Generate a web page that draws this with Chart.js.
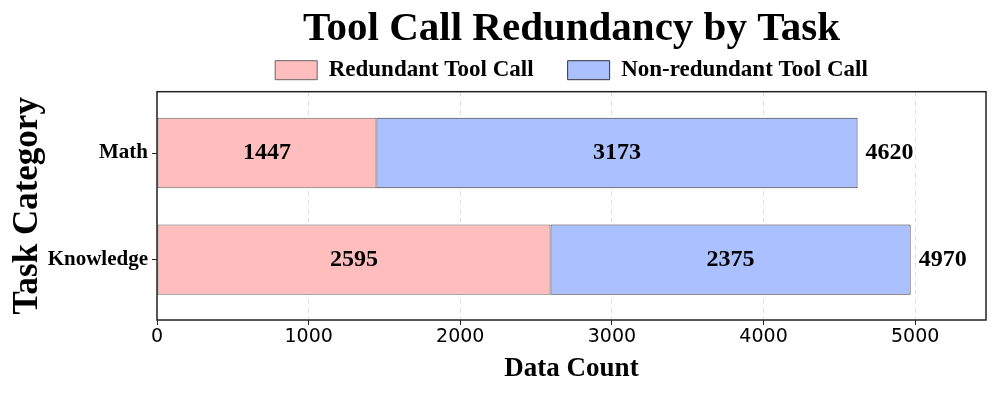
<!DOCTYPE html>
<html>
<head>
<meta charset="utf-8">
<script src="https://cdn.jsdelivr.net/npm/chart.js@4"></script>
<style>
    html, body { margin: 0; padding: 0; background: #fff; }
    #wrap { width: 996px; height: 393px; }
</style>
</head>
<body>
<div id="wrap"><canvas id="chart"></canvas></div>
<script>
// Werte (von unten nach oben)
const categories = ['Knowledge', 'Math'];
const redundant = [2595, 1447];
const nonRedundant = [2375, 3173];
const totals = [4970, 4620];
const xTicks = [0, 1000, 2000, 3000, 4000, 5000];

const serif = "'Liberation Serif', 'DejaVu Serif', serif";

// Zahlen in die Balken und Summe rechts daneben
const barLabels = {
    id: 'barLabels',
    afterDatasetsDraw(chart) {
        const ctx = chart.ctx;
        ctx.save();
        ctx.fillStyle = '#000';
        ctx.font = 'bold 24px ' + serif;
        ctx.textBaseline = 'middle';
        ctx.textAlign = 'center';
        chart.data.datasets.forEach((ds, i) => {
            const meta = chart.getDatasetMeta(i);
            meta.data.forEach((bar, j) => {
                ctx.fillText(String(ds.data[j].x), (bar.x + bar.base) / 2, bar.y);
            });
        });
        const last = chart.getDatasetMeta(chart.data.datasets.length - 1);
        ctx.textAlign = 'left';
        last.data.forEach((bar, j) => {
            ctx.fillText(String(totals[j]), bar.x + 8, bar.y);
        });
        ctx.restore();
    }
};

// Rahmen um die Plotfläche
const frame = {
    id: 'frame',
    afterDraw(chart) {
        const a = chart.chartArea;
        const ctx = chart.ctx;
        ctx.save();
        ctx.strokeStyle = '#222';
        ctx.lineWidth = 1.5;
        ctx.strokeRect(a.left, a.top, a.right - a.left, a.bottom - a.top);
        ctx.restore();
    }
};

const toPoints = arr => arr.map((v, i) => ({ x: v, y: i }));

const ctx = document.getElementById('chart').getContext('2d');
new Chart(ctx, {
    type: 'bar',
    data: {
        datasets: [{
            label: 'Redundant Tool Call',
            data: toPoints(redundant),
            backgroundColor: 'rgb(255, 189, 189)',
            borderColor: '#666',
            borderWidth: 1,
            borderSkipped: false,
            barPercentage: 1,
            categoryPercentage: 0.66
        }, {
            label: 'Non-redundant Tool Call',
            data: toPoints(nonRedundant),
            backgroundColor: 'rgb(171, 193, 255)',
            borderColor: '#333',
            borderWidth: 1,
            borderSkipped: false,
            barPercentage: 1,
            categoryPercentage: 0.66
        }]
    },
    options: {
        indexAxis: 'y',
        responsive: true,
        maintainAspectRatio: false,
        animation: false,
        layout: { padding: { left: 0, right: 10, top: 4, bottom: 0 } },
        scales: {
            x: {
                type: 'linear',
                stacked: true,
                min: 0,
                max: 5467,
                afterBuildTicks: (scale) => { scale.ticks = xTicks.map(v => ({ value: v })); },
                afterFit: (scale) => { scale.height = 73; },
                ticks: {
                    color: '#000',
                    font: { family: "'DejaVu Sans', sans-serif", size: 19 },
                    padding: 1,
                    maxRotation: 0,
                    callback: (v) => String(v)
                },
                grid: {
                    color: 'rgba(0,0,0,0.12)',
                    tickColor: '#222',
                    tickLength: 5,
                    tickBorderDash: []
                },
                border: { display: false, dash: [5, 4] },
                title: {
                    display: true,
                    text: 'Data Count',
                    color: '#000',
                    font: { family: serif, size: 27, weight: 'bold' },
                    padding: { top: 0, bottom: 8 }
                }
            },
            y: {
                type: 'linear',
                stacked: true,
                offset: false,
                min: -0.566,
                max: 1.575,
                afterBuildTicks: (scale) => { scale.ticks = categories.map((c, i) => ({ value: i })); },
                afterFit: (scale) => { scale.width = 157; },
                ticks: {
                    color: '#000',
                    font: { family: serif, size: 21, weight: 'bold' },
                    padding: 4,
                    callback: (v) => categories[v]
                },
                grid: {
                    offset: false,
                    drawOnChartArea: false,
                    tickColor: '#222',
                    tickLength: 5
                },
                border: { display: false },
                title: {
                    display: true,
                    text: 'Task Category',
                    color: '#000',
                    font: { family: serif, size: 35, weight: 'bold' },
                    padding: { top: 7, bottom: 0 }
                }
            }
        },
        plugins: {
            title: {
                display: true,
                fullSize: false,
                text: 'Tool Call Redundancy by Task',
                color: '#000',
                font: { family: serif, size: 41, weight: 'bold' },
                padding: { top: 1, bottom: -6.5 }
            },
            legend: {
                display: true,
                fullSize: false,
                labels: {
                    color: '#000',
                    font: { family: serif, size: 23, weight: 'bold' },
                    boxWidth: 42,
                    boxHeight: 19,
                    padding: 11,
                    generateLabels: (chart) => {
                        const items = Chart.defaults.plugins.legend.labels.generateLabels(chart);
                        items.forEach((it, i) => {
                            it.lineWidth = 1;
                            if (i < items.length - 1) it.text += '\u2002\u2002';
                        });
                        return items;
                    }
                }
            },
            tooltip: { enabled: false }
        }
    },
    plugins: [barLabels, frame]
});
</script>
</body>
</html>
